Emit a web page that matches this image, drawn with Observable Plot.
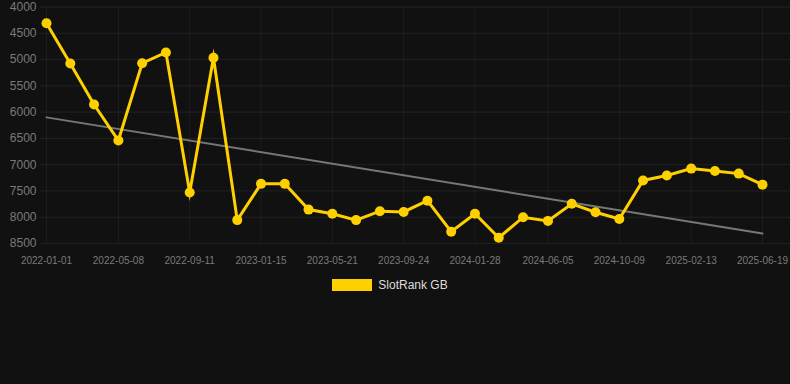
<!DOCTYPE html>
<html>
<head>
<meta charset="utf-8">
<script src="https://cdn.jsdelivr.net/npm/d3@7"></script>
<script src="https://cdn.jsdelivr.net/npm/@observablehq/plot@0.6"></script>
<style>
  html, body { margin: 0; padding: 0; background: #111111; }
  body { width: 790px; height: 384px; overflow: hidden; font-family: "Liberation Sans", Arial, sans-serif; }
  #legend { display: flex; justify-content: center; align-items: center; margin-top: 8px; padding-right: 10px; color: #dddddd; font-size: 12px; }
  #legend .sw { width: 40px; height: 12px; background: #ffd000; margin-right: 6px; }
</style>
</head>
<body>
<div id="chart"></div>
<div id="legend"><span class="sw"></span><span>SlotRank GB</span></div>
<script>
const dates = [
  "2022-01-01","2022-02-12","2022-03-26","2022-05-08","2022-06-19","2022-07-31",
  "2022-09-11","2022-10-23","2022-12-04","2023-01-15","2023-02-26","2023-04-09",
  "2023-05-21","2023-07-02","2023-08-13","2023-09-24","2023-11-05","2023-12-17",
  "2024-01-28","2024-03-10","2024-04-22","2024-06-05","2024-07-17","2024-08-28",
  "2024-10-09","2024-11-20","2025-01-01","2025-02-13","2025-03-27","2025-05-08",
  "2025-06-19"
];
const ranks = [
  4310, 5075, 5855, 6540, 5070, 4865,
  7530, 4965, 8055, 7365, 7365, 7855,
  7935, 8055, 7885, 7900, 7685, 8275,
  7935, 8390, 8000, 8070, 7745, 7905,
  8035, 7300, 7205, 7075, 7120, 7170,
  7380
];
const trendDates = ["2022-01-01", "2025-06-19"];
const trendValues = [6100, 8310];
const xTicks = ["2022-01-01","2022-05-08","2022-09-11","2023-01-15","2023-05-21","2023-09-24","2024-01-28","2024-06-05","2024-10-09","2025-02-13","2025-06-19"];
const yTicks = [4000, 4500, 5000, 5500, 6000, 6500, 7000, 7500, 8000, 8500];

const parse = d3.utcParse("%Y-%m-%d");
const series = dates.map((d, i) => ({date: parse(d), rank: ranks[i]}));
const trend = trendDates.map((d, i) => ({date: parse(d), rank: trendValues[i]}));
const xTickDates = xTicks.map(parse);
const fmt = d3.utcFormat("%Y-%m-%d");

const chart = Plot.plot({
  width: 790,
  height: 270,
  marginTop: 6.5,
  marginBottom: 27,
  marginLeft: 40,
  marginRight: 0,
  style: { background: "#111111", fontFamily: "Liberation Sans, Arial, sans-serif" },
  x: { type: "utc", domain: [parse(dates[0]), parse(dates[dates.length - 1])], insetLeft: 6, insetRight: 28 },
  y: { domain: [4000, 8500], reverse: true },
  marks: [
    Plot.gridY(yTicks, { stroke: "#ffffff", strokeOpacity: 0.07 }),
    Plot.gridX(xTickDates, { stroke: "#ffffff", strokeOpacity: 0.05 }),
    Plot.axisY(yTicks, { tickSize: 0, tickPadding: 4, fontSize: 12, color: "#7a7a7a", label: null, tickFormat: d => String(d) }),
    Plot.axisX(xTickDates, { tickSize: 0, tickPadding: 13, fontSize: 10, color: "#7a7a7a", label: null, tickFormat: fmt }),
    Plot.line(trend, { x: "date", y: "rank", stroke: "#777777", strokeWidth: 2 }),
    Plot.line(series, { x: "date", y: "rank", stroke: "#ffd000", strokeWidth: 3, strokeLinejoin: "miter", strokeMiterlimit: 10 }),
    Plot.dot(series, { x: "date", y: "rank", r: 5, fill: "#ffd000" })
  ]
});
document.getElementById("chart").appendChild(chart);
</script>
</body>
</html>
